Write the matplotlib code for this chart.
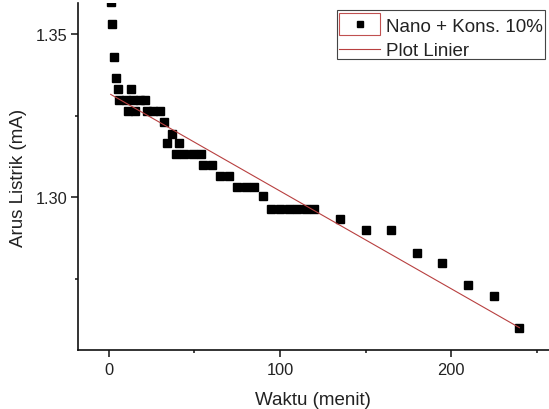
import matplotlib
matplotlib.use("Agg")
import matplotlib.pyplot as plt
from matplotlib.patches import Rectangle
from matplotlib.legend_handler import HandlerLine2D
from matplotlib.ticker import MultipleLocator, FormatStrFormatter

# ---- data ----
waktu = [1, 2, 3, 4, 5, 13,
         6, 10, 14, 18, 21,
         11, 15, 22, 26, 30,
         32, 37, 34, 41,
         39, 44, 49, 54,
         55, 60, 65, 70,
         75, 80, 85, 90,
         95, 100, 105, 110, 115, 120,
         135, 150, 165, 180, 195, 210, 225, 240]
arus = [1.3598, 1.3531, 1.3429, 1.3364, 1.3331, 1.3331,
        1.3298, 1.3298, 1.3298, 1.3298, 1.3298,
        1.3263, 1.3263, 1.3263, 1.3263, 1.3263,
        1.3229, 1.3195, 1.3165, 1.3165,
        1.3131, 1.3131, 1.3131, 1.3131,
        1.3098, 1.3098, 1.3064, 1.3064,
        1.3030, 1.3030, 1.3030, 1.3003,
        1.2965, 1.2965, 1.2965, 1.2965, 1.2965, 1.2965,
        1.2933, 1.2898, 1.2898, 1.2830, 1.2798, 1.2732, 1.2698, 1.2598]

fit_t = [1, 240]
fit_arus = [1.3315, 1.2600]

series_label = "Nano + Kons. 10%"
fit_label = "Plot Linier"
xlabel = "Waktu (menit)"
ylabel = "Arus Listrik (mA)"

plt.rcParams['font.family'] = ['Liberation Sans', 'DejaVu Sans']
text_color = '#222222'

fig = plt.figure(figsize=(5.49, 4.10), dpi=100)
W, H = 549, 410
left_px, right_px, top_px, bottom_px = 77.7, 549, 4, 351
ax = fig.add_axes([left_px / W, 1 - bottom_px / H,
                   (right_px - left_px) / W, (bottom_px - top_px) / H])

fit_line, = ax.plot(fit_t, fit_arus, color='#b84040', lw=0.8, label=fit_label, zorder=3)
pts, = ax.plot(waktu, arus, linestyle='none', marker='s', markersize=6,
               color='black', label=series_label, zorder=2)

ax.set_xlim(-18.3, 257.3)
ax.set_ylim(1.25316, 1.35951)

ax.xaxis.set_major_locator(MultipleLocator(100))
ax.xaxis.set_minor_locator(MultipleLocator(50))
ax.yaxis.set_major_locator(MultipleLocator(0.05))
ax.yaxis.set_minor_locator(MultipleLocator(0.025))
ax.yaxis.set_major_formatter(FormatStrFormatter('%.2f'))

for s in ['top', 'right']:
    ax.spines[s].set_visible(False)
for s in ['left', 'bottom']:
    ax.spines[s].set_linewidth(1.2)
    ax.spines[s].set_color('#111111')

ax.tick_params(which='major', direction='out', length=5, width=1.1,
               labelsize=11.8, colors='#111111', labelcolor=text_color)
ax.tick_params(which='minor', direction='out', length=2.5, width=1.1, colors='#111111')
ax.tick_params(axis='y', which='major', pad=2)
ax.tick_params(axis='x', which='major', pad=4)

ax.set_xlabel(xlabel, fontsize=13.5, color=text_color, labelpad=10)
ax.set_ylabel(ylabel, fontsize=13.5, color=text_color, labelpad=7)


class FramedMarkerHandler(HandlerLine2D):
    def create_artists(self, legend, orig_handle, xdescent, ydescent,
                       width, height, fontsize, trans):
        artists = super().create_artists(legend, orig_handle, xdescent, ydescent,
                                         width, height, fontsize, trans)
        pad = 3.4
        rect = Rectangle((-xdescent, -ydescent - pad), width, height + 2 * pad,
                         facecolor='none', edgecolor='#c05050', lw=0.8,
                         transform=trans)
        return [rect] + list(artists)


# outer legend box (Origin style)
box = Rectangle((337.3 / W, 1 - 60 / H), (545 - 337.3) / W, (60 - 11) / H,
                transform=fig.transFigure, facecolor='white',
                edgecolor='#444444', lw=0.8, zorder=5)
fig.patches.append(box)

leg = fig.legend([pts, fit_line], [series_label, fit_label],
                 handler_map={pts: FramedMarkerHandler(numpoints=1)},
                 loc='upper left', bbox_to_anchor=(339 / W, 1 - 18.5 / H),
                 bbox_transform=fig.transFigure, borderaxespad=0,
                 fontsize=13.5, frameon=False,
                 handlelength=2.2, handletextpad=0.33, borderpad=0,
                 labelspacing=0.4, markerscale=0.8)
leg.set_zorder(6)
for t in leg.get_texts():
    t.set_color(text_color)

fig.savefig('out.png', dpi=100)
